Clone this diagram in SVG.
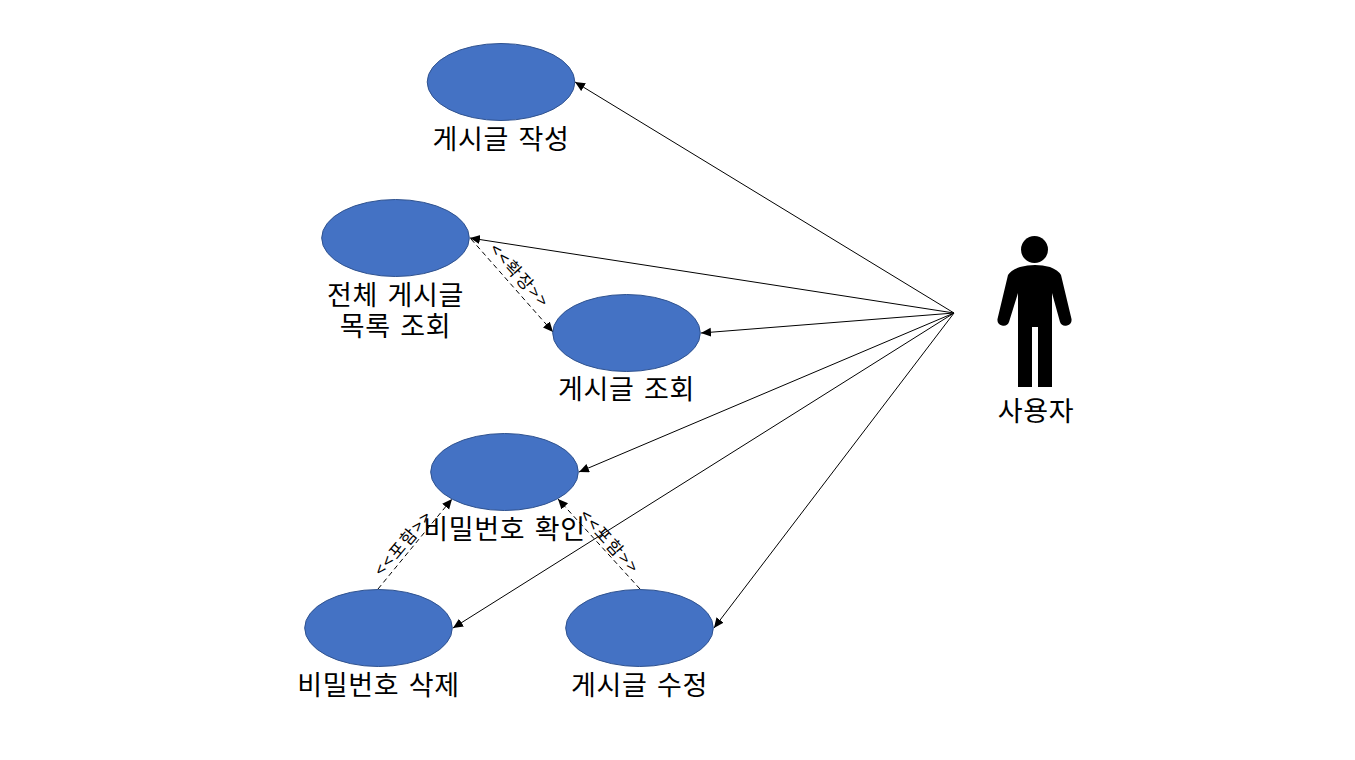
<svg xmlns="http://www.w3.org/2000/svg" width="1355" height="760" viewBox="0 0 1355 760">
<style>
.uc{fill:#4472c4;stroke:#2f528f;stroke-width:1}
.t{font-family:"Noto Sans CJK KR","Liberation Sans",sans-serif;font-size:27px;letter-spacing:.6px;word-spacing:3px;fill:#000;text-anchor:middle}
.s{font-family:"Noto Sans CJK KR","Liberation Sans",sans-serif;font-size:17px;letter-spacing:1.8px;fill:#000;text-anchor:middle}
.c{fill:none;stroke:#000;stroke-width:1;marker-end:url(#a)}
.d{stroke-dasharray:5 3.5}
</style>
<defs><marker id="a" markerUnits="userSpaceOnUse" markerWidth="11" markerHeight="10" refX="10" refY="4.500" orient="auto"><path d="M0 0L10 4.500L0 9Z" fill="#000"/></marker></defs>
<rect width="1355" height="760" fill="#fff"/>
<g id="connectors">
<path class="c" d="M954 313L575 82"/>
<path class="c" d="M954 313L470 238"/>
<path class="c" d="M954 313L701 333"/>
<path class="c" d="M954 313L579 472"/>
<path class="c" d="M954 313L453 628"/>
<path class="c" d="M954 313L714 628"/>
<path class="c d" d="M471 239L553 332"/>
<path class="c d" d="M378 589L452 499"/>
<path class="c d" d="M640 589L558 499"/>
</g>
<g id="node-write"><ellipse class="uc" cx="501" cy="82" rx="73.800" ry="38.500"/><text class="t" x="501" y="149">게시글 작성</text></g>
<g id="node-list"><ellipse class="uc" cx="395.500" cy="238" rx="73.800" ry="38.500"/><text class="t" x="395.500" y="305">전체 게시글</text><text class="t" x="395.500" y="336">목록 조회</text></g>
<g id="node-view"><ellipse class="uc" cx="626.500" cy="333" rx="73.800" ry="38.500"/><text class="t" x="626.500" y="399">게시글 조회</text></g>
<g id="node-check"><ellipse class="uc" cx="504.500" cy="472" rx="73.800" ry="38.500"/><text class="t" x="504.500" y="539">비밀번호 확인</text></g>
<g id="node-delete"><ellipse class="uc" cx="378.500" cy="628" rx="73.800" ry="38.500"/><text class="t" x="378.500" y="695">비밀번호 삭제</text></g>
<g id="node-edit"><ellipse class="uc" cx="639.500" cy="628" rx="73.800" ry="38.500"/><text class="t" x="639.500" y="695">게시글 수정</text></g>
<g id="label-extend"><text class="s" transform="translate(515 280) rotate(48)">&lt;&lt;확장&gt;&gt;</text></g>
<g id="label-include-1"><text class="s" transform="translate(408 547) rotate(-50)">&lt;&lt;포함&gt;&gt;</text></g>
<g id="label-include-2"><text class="s" transform="translate(605 546) rotate(48)">&lt;&lt;포함&gt;&gt;</text></g>
<g id="actor">
<circle cx="1034.500" cy="249.500" r="13.500"/>
<path d="M1018 387V293L1009 322A6 6 0 0 1 997.500 319L1008 275Q1011 270 1020 267Q1035 263 1050 267Q1058 270 1061 275L1071.500 319A6 6 0 0 1 1060 322L1052 293V387H1038V327H1032V387Z"/>
<text class="t" x="1036" y="421">사용자</text>
</g>
</svg>
